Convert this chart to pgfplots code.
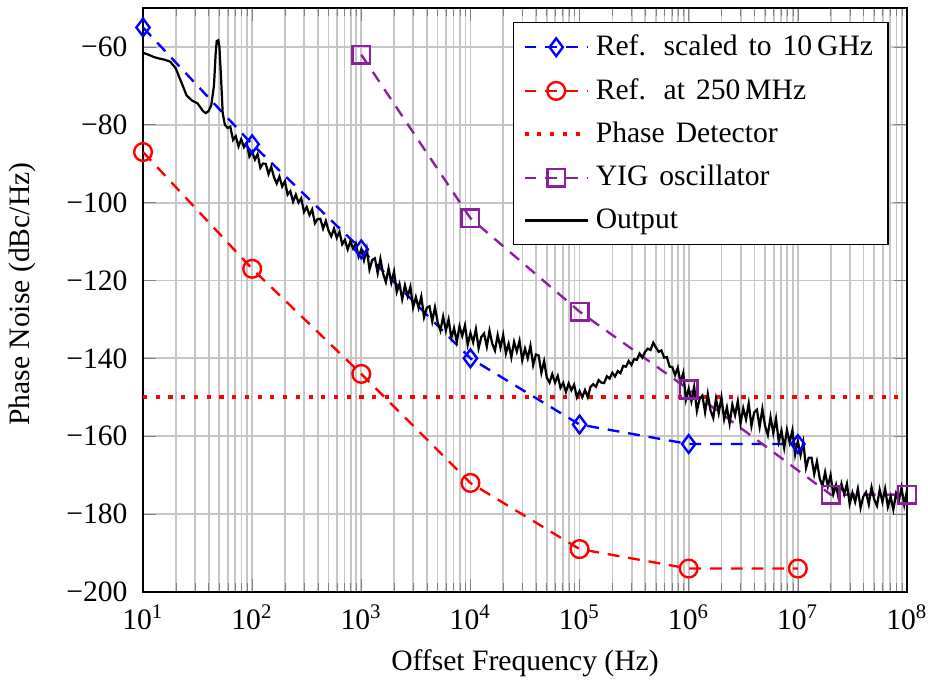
\documentclass[border=0pt]{standalone}
\usepackage{pgfplots}
\pgfplotsset{compat=1.18}
\usepackage{fontspec}
\setmainfont{Liberation Serif}
\definecolor{yig}{rgb}{0.55,0.12,0.62}
\begin{document}
\begin{tikzpicture}
\begin{axis}[
  xmode=log, scale only axis, width=258pt, height=197.2pt,
  xmin=10, xmax=1e8, ymin=-200, ymax=-50,
  xtick={1e1,1e2,1e3,1e4,1e5,1e6,1e7,1e8},
  xticklabels={{10\textsuperscript{1}},{10\textsuperscript{2}},{10\textsuperscript{3}},{10\textsuperscript{4}},{10\textsuperscript{5}},{10\textsuperscript{6}},{10\textsuperscript{7}},{10\textsuperscript{8}}},
  ytick={-200,-180,-160,-140,-120,-100,-80,-60},
  yticklabels={−200,−180,−160,−140,−120,−100,−80,−60},
  xticklabel style={yshift=-0.9pt},
  yticklabel style={xshift=-1.7pt},
  grid=both,
  major grid style={gray!45, line width=0.6pt},
  minor grid style={gray!45, line width=0.6pt},
  axis line style={line width=0.6pt},
  xlabel={Offset Frequency (Hz)}, ylabel={Phase Noise (dBc/Hz)},
  xlabel style={at={(axis description cs:0.5,-0.1216)}, anchor=center},
  ylabel style={at={(axis description cs:-0.1585,0.51)}, anchor=center},
  legend style={at={(0.976,0.976)}, anchor=north east, draw=black, line width=0.5pt,
    row sep=2.2pt, font={\spaceskip=3.7pt plus 1pt\relax}},
  legend cell align=left,
  legend image code/.code={\draw[mark repeat=2,mark phase=2,#1] plot coordinates {(0cm,0cm) (0.375cm,0cm) (0.75cm,0cm)};},
  mark size=3pt,
]
\addplot[blue, line width=0.8pt, dash pattern=on 4pt off 3pt, mark=diamond, mark options={solid}] coordinates {
(1e1,-55) (1e2,-85) (1e3,-112) (1e4,-140) (1e5,-157) (1e6,-162) (1e7,-162)};
\addlegendentry{Ref.\hspace{6pt}scaled to 10\,GHz}
\addplot[red, line width=0.8pt, dash pattern=on 4pt off 3pt, mark=o, mark options={solid}] coordinates {
(1e1,-87) (1e2,-117) (1e3,-144) (1e4,-172) (1e5,-189) (1e6,-194) (1e7,-194)};
\addlegendentry{Ref.\hspace{6pt}at 250\,MHz}
\addplot[red, line width=1.4pt, dash pattern=on 1.4pt off 2.9pt] coordinates {
(1e1,-150) (1e8,-150)};
\addlegendentry{Phase Detector}
\addplot[yig, line width=0.8pt, dash pattern=on 4pt off 3pt, mark=square, mark options={solid}] coordinates {
(1e3,-62) (1e4,-104) (1e5,-128) (1e6,-148) (2e7,-175) (1e8,-175)};
\addlegendentry{YIG oscillator}
\addplot[black, line width=0.75pt] coordinates {
(1.000e1,-61.5) (1.122e1,-62.0) (1.259e1,-62.6) (1.413e1,-63.0) (1.585e1,-63.3) (1.778e1,-63.8) (1.995e1,-65.5) (2.239e1,-69.0) (2.512e1,-72.5) (2.818e1,-73.8) (3.162e1,-74.5) (3.548e1,-76.5) (3.758e1,-77.0) (3.981e1,-76.5) (4.217e1,-75.0) (4.467e1,-70.0) (4.624e1,-62.0) (4.732e1,-58.5) (4.898e1,-58.3) (5.012e1,-60.0) (5.188e1,-68.0) (5.370e1,-77.0) (5.623e1,-80.0) (5.957e1,-80.8)
(6.310e1,-80.5) (6.683e1,-83.9) (7.079e1,-82.93) (7.499e1,-85.56) (7.943e1,-83.7) (8.414e1,-85.74) (8.913e1,-84.63) (9.441e1,-88.16)
(1.000e2,-86.9) (1.059e2,-88.94) (1.122e2,-87.53) (1.189e2,-91.06) (1.259e2,-89.95) (1.334e2,-90.04) (1.413e2,-92.68) (1.496e2,-90.81) (1.585e2,-93.45) (1.679e2,-95.1) (1.778e2,-93.3) (1.884e2,-95.85) (1.995e2,-94.5) (2.113e2,-97.95) (2.239e2,-97.05) (2.371e2,-99.75) (2.512e2,-97.95) (2.661e2,-99.99) (2.818e2,-98.88) (2.985e2,-102.41) (3.162e2,-101.15) (3.350e2,-103.19) (3.548e2,-101.78) (3.758e2,-105.31) (3.981e2,-104.2) (4.217e2,-104.16) (4.467e2,-106.68) (4.732e2,-104.69) (5.012e2,-107.2) (5.309e2,-108.66) (5.623e2,-106.68) (5.957e2,-109.04) (6.310e2,-107.5) (6.683e2,-110.7) (7.079e2,-109.55) (7.499e2,-112.0) (7.943e2,-109.95) (8.414e2,-111.8) (8.913e2,-110.5) (9.441e2,-113.85)
(1.000e3,-112.0) (1.059e3,-114.81) (1.122e3,-111.88) (1.189e3,-117.19) (1.259e3,-114.75) (1.334e3,-114.31) (1.413e3,-118.13) (1.496e3,-114.44) (1.585e3,-118.25) (1.679e3,-120.44) (1.778e3,-116.88) (1.884e3,-120.56) (1.995e3,-117.75) (2.113e3,-122.94) (2.239e3,-120.88) (2.371e3,-124.81) (2.512e3,-121.25) (2.661e3,-124.06) (2.818e3,-121.63) (2.985e3,-126.94) (3.162e3,-124.25) (3.350e3,-127.06) (3.548e3,-124.13) (3.758e3,-129.44) (3.981e3,-127.0) (4.217e3,-126.63) (4.467e3,-130.5) (4.732e3,-126.88) (5.012e3,-130.75) (5.309e3,-132.88) (5.623e3,-129.25) (5.957e3,-132.88) (6.310e3,-130.0) (6.683e3,-134.75) (7.079e3,-132.25) (7.499e3,-135.75) (7.943e3,-131.75) (8.414e3,-134.25) (8.913e3,-131.5) (9.441e3,-136.5)
(1.000e4,-133.5) (1.059e4,-135.88) (1.122e4,-132.5) (1.189e4,-137.38) (1.259e4,-134.5) (1.334e4,-133.63) (1.413e4,-137.0) (1.496e4,-132.88) (1.585e4,-136.25) (1.679e4,-138.0) (1.778e4,-134.0) (1.884e4,-137.25) (1.995e4,-134.0) (2.113e4,-138.75) (2.239e4,-136.25) (2.371e4,-139.75) (2.512e4,-135.75) (2.661e4,-138.25) (2.818e4,-135.5) (2.985e4,-140.5) (3.162e4,-137.5) (3.350e4,-140.0) (3.548e4,-136.75) (3.758e4,-141.75) (3.981e4,-139.0) (4.217e4,-139.25) (4.467e4,-143.75) (4.732e4,-140.75) (5.012e4,-144.95) (5.309e4,-146.23) (5.623e4,-144.05) (5.957e4,-146.23) (6.310e4,-144.5) (6.683e4,-147.58) (7.079e4,-146.3) (7.499e4,-148.63) (7.943e4,-146.45) (8.414e4,-148.18) (8.913e4,-146.75) (9.441e4,-149.98)
(1.000e5,-148.4) (1.059e5,-150.0) (1.122e5,-148.15) (1.189e5,-150.0) (1.259e5,-147.34) (1.334e5,-146.65) (1.413e5,-147.31) (1.496e5,-145.58) (1.585e5,-146.24) (1.679e5,-146.35) (1.778e5,-144.61) (1.884e5,-145.2) (1.995e5,-143.7) (2.113e5,-144.64) (2.239e5,-143.26) (2.371e5,-143.8) (2.512e5,-141.94) (2.661e5,-142.16) (2.818e5,-140.7) (2.985e5,-141.72) (3.162e5,-140.18) (3.350e5,-140.4) (3.548e5,-138.78) (3.758e5,-139.8) (3.981e5,-138.34) (4.217e5,-137.52) (4.467e5,-137.86) (4.732e5,-136.0) (5.012e5,-137.24) (5.309e5,-138.32) (5.623e5,-137.96) (5.957e5,-139.82) (6.310e5,-139.7) (6.683e5,-142.14) (7.079e5,-142.26) (7.499e5,-144.3) (7.943e5,-142.4) (8.414e5,-146.23) (8.913e5,-143.75) (9.441e5,-150.58)
(1.000e6,-147.8) (1.059e6,-151.0) (1.122e6,-147.3) (1.189e6,-153.5) (1.259e6,-150.4) (1.334e6,-149.58) (1.413e6,-153.85) (1.496e6,-149.13) (1.585e6,-153.4) (1.679e6,-155.33) (1.778e6,-150.35) (1.884e6,-154.08) (1.995e6,-150.0) (2.113e6,-155.65) (2.239e6,-152.6) (2.371e6,-156.75) (2.512e6,-151.9) (2.661e6,-154.6) (2.818e6,-151.0) (2.985e6,-156.7) (3.162e6,-152.8) (3.350e6,-155.63) (3.548e6,-151.55) (3.758e6,-157.38) (3.981e6,-153.9) (4.217e6,-153.2) (4.467e6,-157.6) (4.732e6,-153.0) (5.012e6,-157.4) (5.309e6,-159.7) (5.623e6,-155.1) (5.957e6,-159.2) (6.310e6,-155.5) (6.683e6,-161.4) (7.079e6,-158.6) (7.499e6,-163.0) (7.943e6,-158.4) (8.414e6,-161.6) (8.913e6,-158.5) (9.441e6,-164.7)
(1.000e7,-161.3) (1.059e7,-164.88) (1.122e7,-161.55) (1.189e7,-168.13) (1.259e7,-165.5) (1.334e7,-165.5) (1.413e7,-169.75) (1.496e7,-166.5) (1.585e7,-170.75) (1.679e7,-172.88) (1.778e7,-169.25) (1.884e7,-172.88) (1.995e7,-170.0) (2.113e7,-174.88) (2.239e7,-172.5) (2.371e7,-176.13) (2.512e7,-172.25) (2.661e7,-174.88) (2.818e7,-172.25) (2.985e7,-177.38) (3.162e7,-174.5) (3.350e7,-176.88) (3.548e7,-173.5) (3.758e7,-178.38) (3.981e7,-175.5) (4.217e7,-174.38) (4.467e7,-177.5) (4.732e7,-173.13) (5.012e7,-176.25) (5.309e7,-177.88) (5.623e7,-173.75) (5.957e7,-176.88) (6.310e7,-173.5) (6.683e7,-178.13) (7.079e7,-175.5) (7.499e7,-178.88) (7.943e7,-174.75) (8.414e7,-176.63) (8.913e7,-173.25) (9.441e7,-177.63)
(1.000e8,-174.0)};
\addlegendentry{Output}
\end{axis}
\pgfresetboundingbox
\path[use as bounding box] ([xshift=-48.3pt,yshift=-32.8pt]current axis.south west) rectangle ([xshift=7.1pt,yshift=2.7pt]current axis.north east);
\end{tikzpicture}
\end{document}
